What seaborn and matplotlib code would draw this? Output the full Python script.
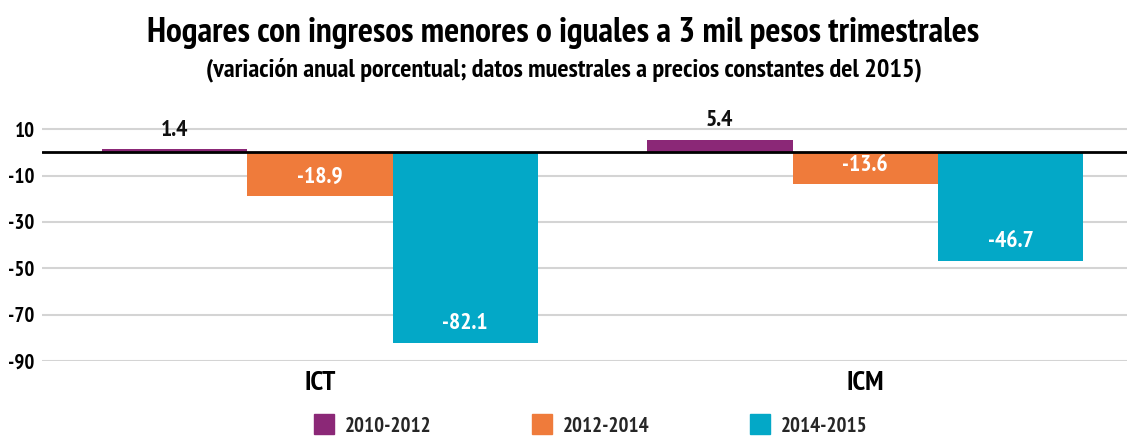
import numpy as np
import pandas as pd
import matplotlib
matplotlib.use('Agg')
import matplotlib.pyplot as plt
import seaborn as sns
from matplotlib.lines import Line2D
from matplotlib import font_manager as fm

indices = ['ICT', 'ICM']
periodos = ['2010-2012', '2012-2014', '2014-2015']
ict = [1.4, -18.9, -82.1]
icm = [5.4, -13.6, -46.7]
colores = ['#8b2877', '#ef7b3b', '#03a8c7']

data = pd.DataFrame({
    'indice': np.repeat(indices, len(periodos)),
    'periodo': periodos * len(indices),
    'valor': ict + icm,
})

sns.set_style('white')

# buscar una fuente angosta y negrita entre las instaladas
def puntaje(f):
    n = f.name.lower() + ' ' + f.fname.lower()
    if 'narrow' in n:
        return 0
    for i, fam in enumerate(['roboto', 'open sans', 'opensans', 'noto sans', 'notosans', 'lato', 'inter']):
        if fam in n and ('condensed' in n or f.stretch in ('condensed', 'semi-condensed')):
            return 1 + i
    if 'dejavu' in n and 'condensed' in n:
        return 20
    return 99

def peso(f):
    w = f.weight
    if isinstance(w, str):
        w = {'normal': 400, 'regular': 400, 'bold': 700, 'light': 300, 'medium': 500,
             'semibold': 600, 'demibold': 600, 'heavy': 800, 'black': 900}.get(w, 400)
    ital = 1000 if f.style != 'normal' else 0
    return abs(w - 700) + ital

fuentes = [f for f in fm.fontManager.ttflist if puntaje(f) < 99]
if fuentes:
    top = min(puntaje(f) for f in fuentes)
    elegida = min([f for f in fuentes if puntaje(f) == top], key=peso)
    fp = fm.FontProperties(fname=elegida.fname)
else:
    fp = fm.FontProperties(family='DejaVu Sans', weight='bold')

plt.rcParams['axes.unicode_minus'] = False

def fuente(size):
    p = fp.copy()
    p.set_size(size)
    return p

fig = plt.figure(figsize=(11.27, 4.38), dpi=100)
ax = fig.add_axes([0.037, 0.176, 0.963, 0.582])

sns.barplot(data=data, x='indice', y='valor', hue='periodo', order=indices,
            hue_order=periodos, palette=colores, width=0.8, saturation=1,
            linewidth=0, ax=ax, legend=False, zorder=3)

ax.set_ylim(-90, 20)
ax.set_xlim(-0.51, 1.48)
ax.set_yticks([10, -10, -30, -50, -70, -90])
ax.yaxis.grid(True, color='#d4d4d4', linewidth=1.5, zorder=0)
ax.axhline(0, color='black', linewidth=2, zorder=4)
for s in ax.spines.values():
    s.set_visible(False)
ax.tick_params(axis='y', length=0, pad=5, colors='black')
ax.tick_params(axis='x', length=0, pad=7, colors='black')
ax.set_xlabel('')
ax.set_ylabel('')
for t in ax.get_yticklabels():
    t.set_fontproperties(fuente(15))
for t in ax.get_xticklabels():
    t.set_fontproperties(fuente(20))

# etiquetas de valor
for cont in ax.containers:
    for bar in cont:
        v = bar.get_height()
        xc = bar.get_x() + bar.get_width() / 2
        if v >= 0:
            ax.annotate(f'{v:.1f}', (xc, v), xytext=(0, 6), textcoords='offset points',
                        ha='center', va='bottom', fontproperties=fuente(17), color='#111111')
        else:
            ax.annotate(f'{v:.1f}', (xc, v), xytext=(0, 21), textcoords='offset points',
                        ha='center', va='top', fontproperties=fuente(17), color='white')

fig.text(0.5, 0.925, 'Hogares con ingresos menores o iguales a 3 mil pesos trimestrales',
         ha='center', va='center', fontproperties=fuente(25.5), color='black')
fig.text(0.5, 0.84, '(variación anual porcentual; datos muestrales a precios constantes del 2015)',
         ha='center', va='center', fontproperties=fuente(19), color='black')

handles = [Line2D([0], [0], marker='s', linestyle='', markersize=14,
                  markerfacecolor=c, markeredgecolor=c) for c in colores]
fig.legend(handles, periodos, loc='center', bbox_to_anchor=(0.524, 0.027), ncol=3,
           frameon=False, prop=fuente(15), columnspacing=4.8,
           handletextpad=0.5, handlelength=1.0, borderpad=0.2)

fig.savefig('out.png', dpi=100)
